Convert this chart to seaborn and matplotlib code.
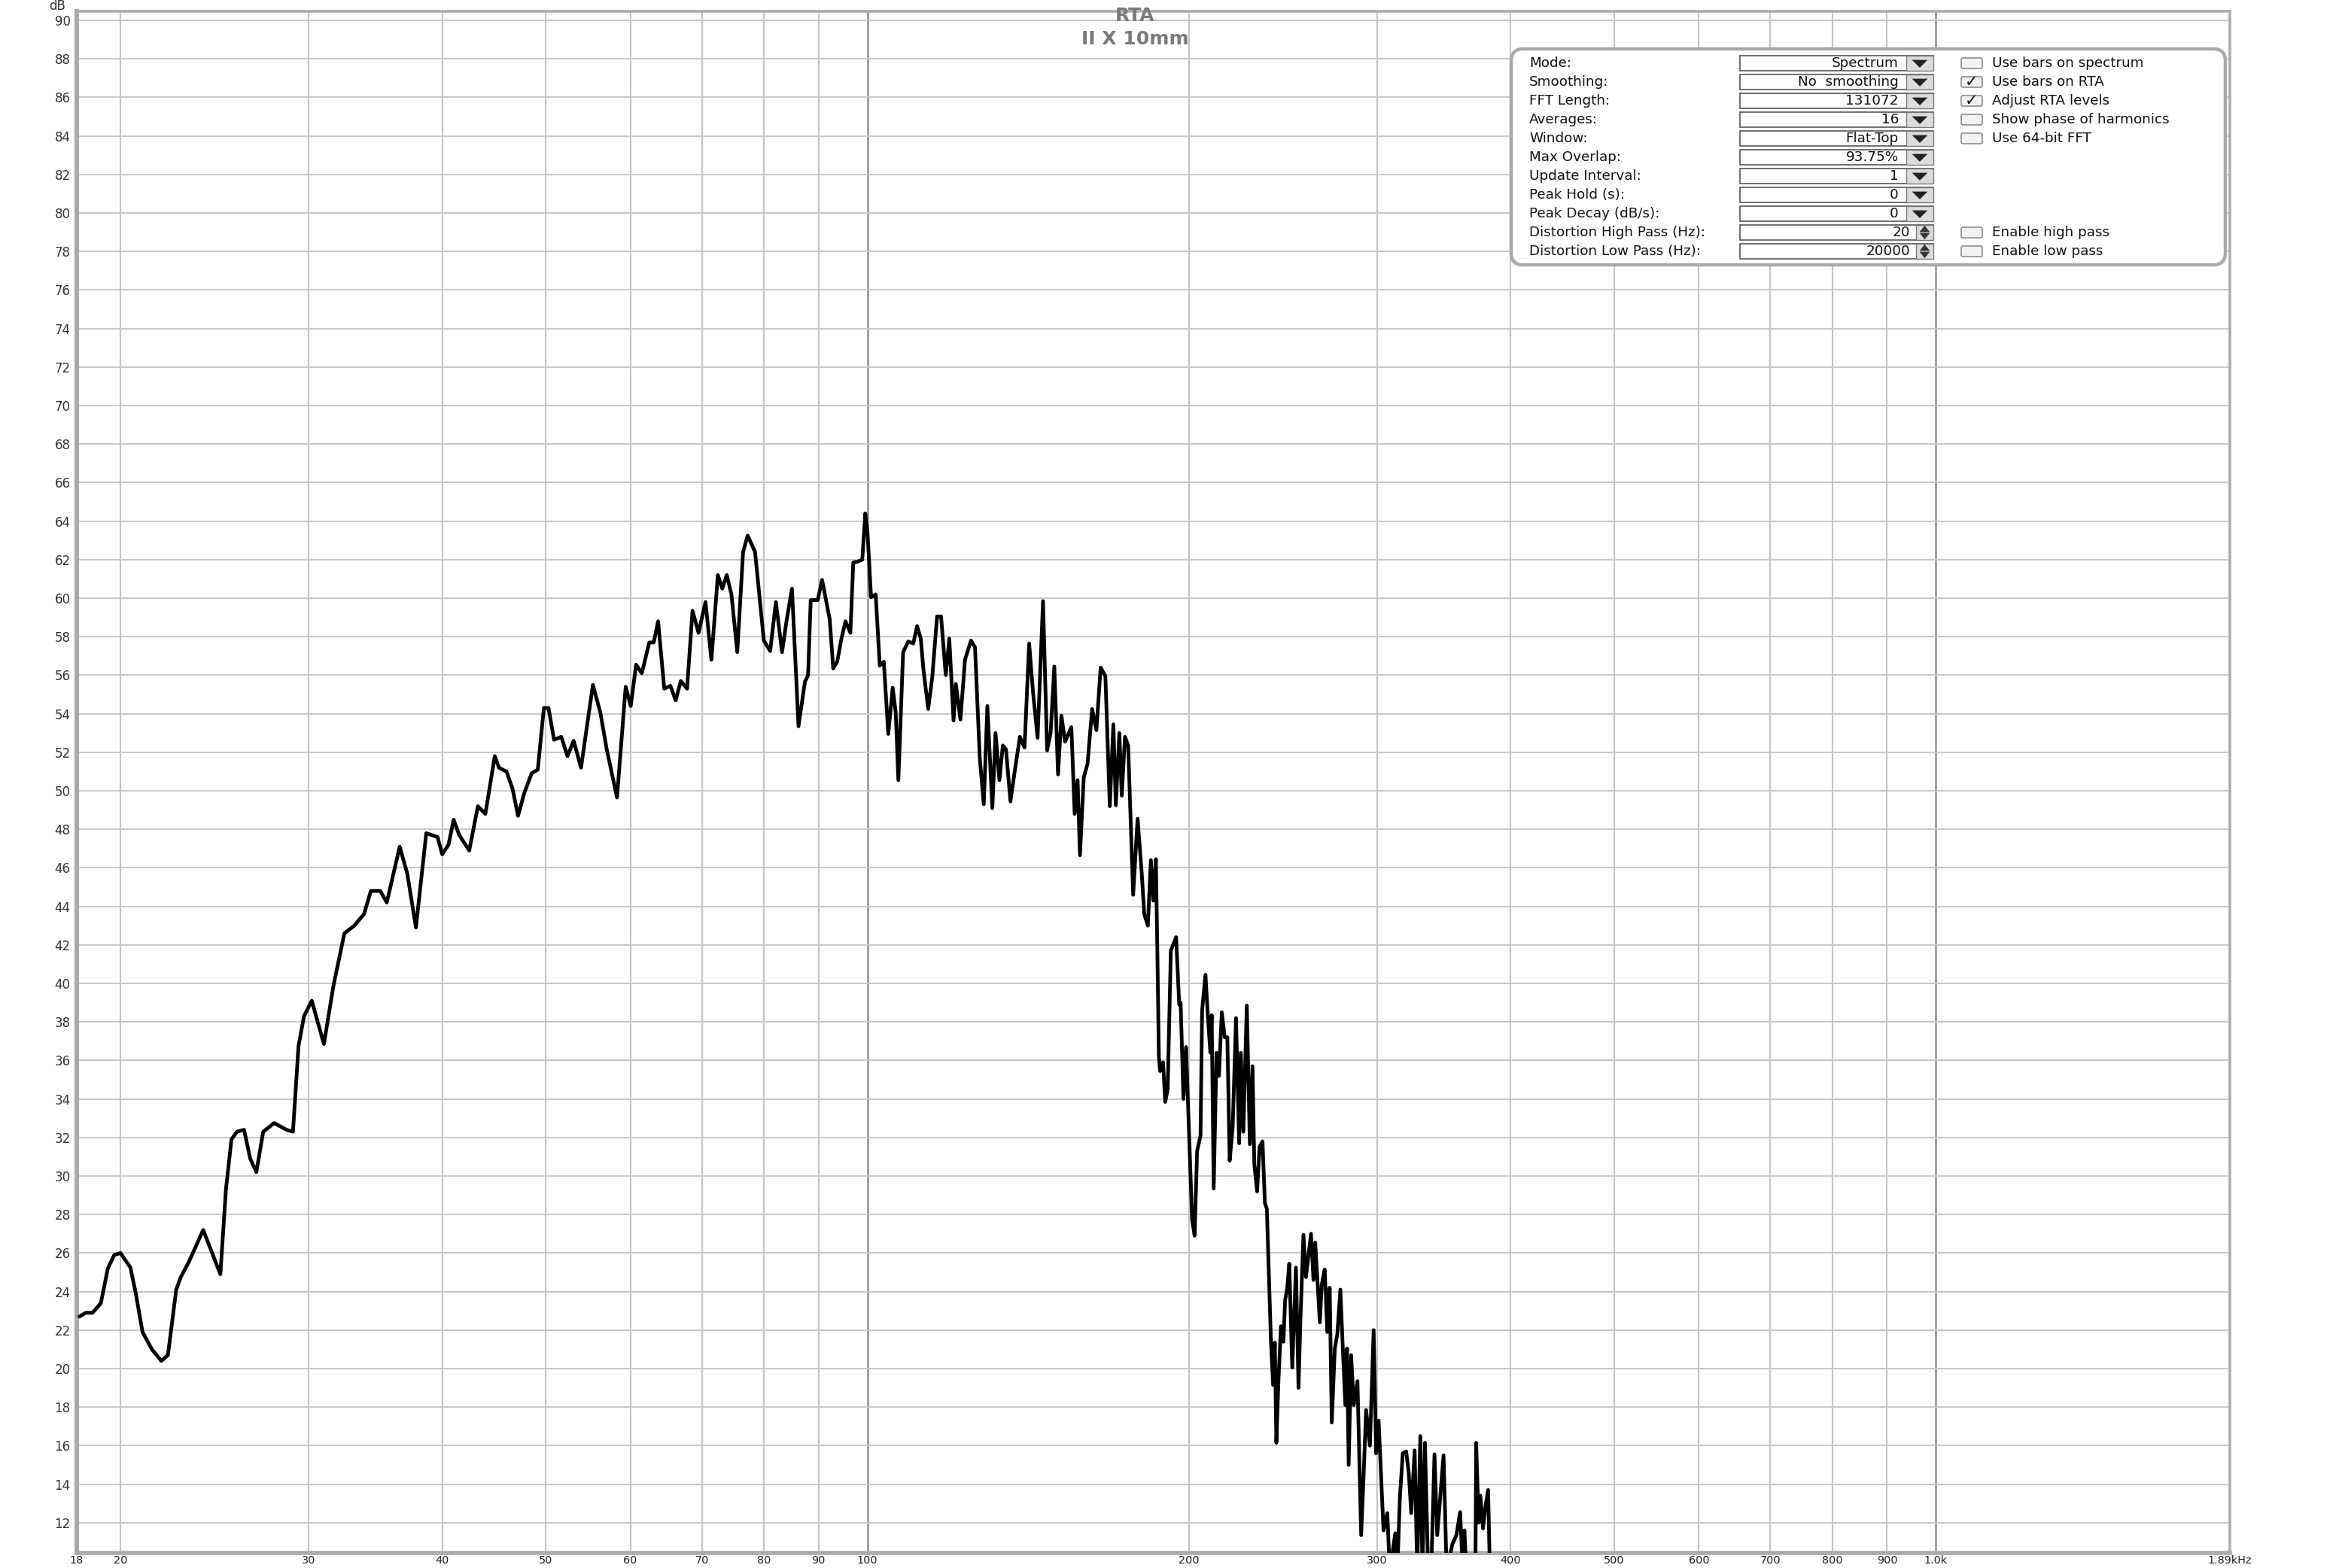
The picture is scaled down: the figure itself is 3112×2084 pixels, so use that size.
import matplotlib
matplotlib.use("Agg")
import matplotlib.pyplot as plt
from matplotlib.patches import FancyBboxPatch, Rectangle, Polygon
import seaborn as sns
import pandas as pd

# RTA trace (Hz, dB)
freq_hz = [
    18.3, 18.56, 18.83, 19.17, 19.46, 19.73, 20.0, 20.43, 20.67, 20.97,
    21.4, 21.84, 22.15, 22.55, 22.75, 23.2, 23.9, 24.8, 25.1, 25.4,
    25.7, 26.1, 26.45, 26.8, 27.2, 27.85, 28.6, 29.0, 29.35, 29.7,
    30.2, 31.0, 31.65, 32.4, 33.1, 33.8, 34.3, 35.0, 35.5, 36.5,
    37.1, 37.8, 38.65, 39.6, 40.0, 40.55, 41.0, 41.5, 42.4, 43.2,
    43.9, 44.8, 45.2, 45.95, 46.55, 47.1, 47.75, 48.5, 49.15, 49.8,
    50.3, 50.9, 51.7, 52.4, 53.1, 53.95, 55.35, 56.25, 57.0, 58.3,
    59.4, 60.05, 60.75, 61.5, 62.5, 63.1, 63.7, 64.55, 65.4, 66.15,
    66.9, 67.8, 68.6, 69.5, 70.55, 71.45, 72.45, 73.15, 73.85, 74.6,
    75.55, 76.5, 77.25, 78.5, 80.0, 81.1, 82.1, 83.2, 84.0, 85.0,
    86.2, 87.4, 88.0, 88.5, 89.85, 90.7, 92.2, 92.9, 93.7, 94.6,
    95.4, 96.4, 97.0, 97.95, 98.9, 99.55, 100.0, 100.8, 101.8, 102.7,
    103.6, 104.6, 105.6, 106.3, 106.9, 108.0, 109.2, 110.4, 111.3, 112.2,
    112.8, 114.0, 115.0, 116.2, 117.2, 118.4, 119.3, 120.4, 121.0, 122.2,
    123.4, 125.0, 126.1, 127.4, 128.5, 129.5, 130.9, 131.8, 132.9, 133.9,
    134.8, 136.1, 137.4, 138.9, 140.3, 141.7, 142.9, 144.3, 146.0, 147.3,
    148.4, 149.6, 150.8, 151.9, 153.1, 155.2, 156.3, 157.3, 158.1, 159.4,
    160.7, 162.3, 163.8, 165.3, 167.0, 168.6, 169.9, 170.8, 172.1, 173.0,
    174.2, 175.4, 177.3, 179.0, 180.6, 181.6, 183.0, 184.2, 185.2, 186.2,
    186.8, 187.4, 187.9, 189.1, 190.0, 191.0, 192.3, 194.5, 195.8, 196.4,
    197.6, 198.7, 200.0, 201.3, 202.4, 203.5, 205.0, 205.7, 207.2, 208.3,
    209.4, 210.0, 210.9, 212.2, 213.3, 214.6, 216.0, 217.2, 218.3, 219.7,
    221.3, 222.8, 223.6, 224.8, 226.5, 228.0, 229.3, 230.2, 231.6, 232.8,
    234.3, 235.5, 236.5, 238.6, 239.7, 240.6, 241.4, 242.5, 243.8, 245.1,
    246.0, 247.1, 248.2, 249.8, 251.8, 253.2, 254.2, 255.9, 257.3, 260.1,
    261.5, 262.5, 265.1, 266.2, 267.9, 269.4, 270.8, 272.0, 273.8, 275.3,
    277.1, 278.6, 280.1, 281.1, 282.1, 283.6, 285.2, 287.5, 289.8, 291.4,
    292.9, 295.3, 297.7, 299.3, 300.9, 304.1, 306.6, 308.2, 311.9, 313.3,
    315.0, 317.0, 319.3, 321.1, 322.8, 325.2, 327.0, 329.2, 330.7, 332.5,
    334.8, 337.0, 339.4, 341.4, 344.2, 346.1, 348.4, 352.8, 355.8, 358.7,
    360.7, 362.0, 363.6, 370.7, 371.3, 373.3, 374.7, 376.8, 378.9, 381.0,
    382.4,
]
level_db = [
    22.7, 22.9, 22.9, 23.4, 25.2, 25.9, 26.0, 25.25, 23.9, 21.9,
    21.0, 20.4, 20.7, 24.1, 24.7, 25.6, 27.2, 24.9, 29.3, 31.9,
    32.3, 32.4, 30.9, 30.2, 32.3, 32.75, 32.4, 32.3, 36.75, 38.3,
    39.1, 36.85, 39.9, 42.6, 43.0, 43.6, 44.8, 44.8, 44.2, 47.1,
    45.7, 42.9, 47.8, 47.6, 46.7, 47.2, 48.5, 47.7, 46.9, 49.2,
    48.8, 51.8, 51.2, 51.0, 50.1, 48.7, 49.9, 50.9, 51.1, 54.3,
    54.3, 52.65, 52.8, 51.8, 52.6, 51.2, 55.5, 54.05, 52.2, 49.65,
    55.4, 54.4, 56.55, 56.1, 57.7, 57.7, 58.8, 55.3, 55.45, 54.7,
    55.7, 55.3, 59.35, 58.2, 59.8, 56.8, 61.2, 60.5, 61.2, 60.2,
    57.2, 62.4, 63.25, 62.4, 57.8, 57.25, 59.8, 57.2, 58.8, 60.5,
    53.35, 55.65, 56.0, 59.9, 59.9, 60.95, 58.9, 56.35, 56.7, 57.95,
    58.8, 58.2, 61.85, 61.9, 62.0, 64.4, 63.5, 60.05, 60.2, 56.5,
    56.7, 52.95, 55.35, 54.05, 50.55, 57.2, 57.75, 57.65, 58.55, 57.9,
    56.35, 54.25, 55.9, 59.05, 59.05, 56.0, 57.9, 53.65, 55.55, 53.7,
    56.8, 57.8, 57.45, 51.7, 49.3, 54.4, 49.1, 53.0, 50.55, 52.35,
    52.15, 49.45, 51.05, 52.8, 52.25, 57.65, 55.1, 52.75, 59.85, 52.1,
    53.0, 56.45, 50.85, 53.9, 52.55, 53.3, 48.8, 50.55, 46.65, 50.7,
    51.4, 54.25, 53.15, 56.4, 55.95, 49.2, 53.45, 49.25, 53.0, 49.75,
    52.8, 52.35, 44.6, 48.55, 45.75, 43.6, 43.0, 46.4, 44.3, 46.45,
    41.6, 36.2, 35.45, 35.9, 33.85, 34.5, 41.7, 42.4, 38.9, 39.0,
    34.0, 36.7, 32.15, 27.75, 26.9, 31.3, 32.1, 38.6, 40.45, 38.25,
    36.4, 38.35, 29.35, 36.4, 35.2, 38.5, 37.2, 37.2, 30.8, 32.5,
    38.2, 31.7, 36.4, 32.3, 38.85, 31.65, 35.7, 30.6, 29.2, 31.5,
    31.8, 28.6, 28.3, 21.4, 19.15, 21.35, 16.15, 19.4, 22.2, 21.4,
    23.55, 24.15, 25.45, 20.05, 25.25, 19.0, 22.4, 26.95, 24.75, 27.0,
    24.6, 26.55, 22.4, 24.35, 25.15, 21.9, 24.2, 17.2, 21.05, 21.8,
    24.1, 20.95, 18.1, 21.05, 15.0, 20.7, 18.1, 19.35, 11.35, 14.6,
    17.85, 16.0, 22.0, 15.6, 17.3, 11.6, 12.5, 9.5, 11.45, 9.5,
    13.3, 15.6, 15.7, 14.6, 12.5, 15.75, 9.5, 16.5, 9.5, 16.15,
    9.5, 9.5, 15.55, 11.35, 13.8, 15.5, 9.5, 10.9, 11.35, 12.55,
    9.5, 11.6, 9.5, 9.5, 16.15, 12.0, 13.4, 11.7, 12.9, 13.7,
    9.5,
]

grid_hz = [20, 30, 40, 50, 60, 70, 80, 90, 100,
           200, 300, 400, 500, 600, 700, 800, 900, 1000]
tick_hz = [18.2, 20, 30, 40, 50, 60, 70, 80, 90, 100,
           200, 300, 400, 500, 600, 700, 800, 900, 1000, 1884]
tick_labels = ["18", "20", "30", "40", "50", "60", "70", "80", "90", "100",
               "200", "300", "400", "500", "600", "700", "800", "900", "1.0k", "1.89kHz"]
db_ticks = list(range(12, 92, 2))

setting_names = ["Mode:", "Smoothing:", "FFT Length:", "Averages:", "Window:",
                 "Max Overlap:", "Update Interval:", "Peak Hold (s):",
                 "Peak Decay (dB/s):", "Distortion High Pass (Hz):",
                 "Distortion Low Pass (Hz):"]
setting_values = ["Spectrum", "No  smoothing", "131072", "16", "Flat-Top",
                  "93.75%", "1", "0", "0", "20", "20000"]
option_names = ["Use bars on spectrum", "Use bars on RTA", "Adjust RTA levels",
                "Show phase of harmonics", "Use 64-bit FFT", None, None, None,
                None, "Enable high pass", "Enable low pass"]
option_checked = [False, True, True, False, False, False, False, False,
                  False, False, False]

W, H, DPI = 3112, 2084, 200
sns.set_style("white")
plt.rcParams["font.family"] = ["DejaVu Sans"]

fig = plt.figure(figsize=(W / DPI, H / DPI), dpi=DPI)
fig.patch.set_facecolor("white")
ax = fig.add_axes([102 / W, 1 - 2064 / H, (2963 - 102) / W, (2064 - 15) / H])

df = pd.DataFrame({"freq": freq_hz, "db": level_db})
sns.lineplot(data=df, x="freq", y="db", ax=ax, color="black", lw=1.75,
             estimator=None, sort=False, zorder=5)

ax.set_xscale("log")
ax.set_xlim(18.2, 1884)
ax.set_ylim(10.43, 90.47)
ax.set_xlabel("")
ax.set_ylabel("")

for g in grid_hz:
    dark = g in (100, 1000)
    ax.axvline(g, color="#8e8e8e" if dark else "#c4c4c4", lw=0.9 if dark else 0.75, zorder=1)
for d in db_ticks:
    ax.axhline(d, color="#c8c8c8", lw=0.7, zorder=1)

ax.set_xticks(tick_hz)
ax.set_xticklabels(tick_labels)
ax.set_xticks([], minor=True)
ax.set_yticks(db_ticks)
ax.set_yticklabels([str(d) for d in db_ticks])
ax.tick_params(axis="x", length=0, pad=1.2, labelsize=5.2, labelcolor="#222222")
ax.tick_params(axis="y", length=0, pad=3, labelsize=6, labelcolor="#333333")

for side, lw in (("left", 2.2), ("bottom", 2.0), ("top", 1.3), ("right", 1.3)):
    ax.spines[side].set_visible(True)
    ax.spines[side].set_color("#ababab")
    ax.spines[side].set_linewidth(lw)

tr = fig.dpi_scale_trans


def P(x, y):
    # screenshot pixel -> inches from lower left
    return x / DPI, (H - y) / DPI


fig.text(*P(76, 8), "dB", transform=tr, ha="center", va="center", fontsize=6, color="#333333")
fig.text(*P(1508, 21), "RTA", transform=tr, ha="center", va="center",
         fontsize=9, fontweight="bold", color="#7a7a7a")
fig.text(*P(1508, 52), "II X 10mm", transform=tr, ha="center", va="center",
         fontsize=9, fontweight="bold", color="#7a7a7a")

# settings panel
x0, y0 = P(2008, 352)
x1, y1 = P(2957, 65)
fig.add_artist(FancyBboxPatch((x0, y0), x1 - x0, y1 - y0,
                              boxstyle="round,pad=0,rounding_size=0.08",
                              transform=tr, facecolor="white", edgecolor="#a9a9a9",
                              lw=1.6, zorder=10))

row_y = [84 + 25 * i for i in range(len(setting_names))]
for i, yc in enumerate(row_y):
    fig.text(*P(2032, yc), setting_names[i], transform=tr, ha="left", va="center",
             fontsize=6.6, color="#111111", zorder=12)
    bx, by = P(2312, yc + 10)
    fig.add_artist(Rectangle((bx, by), 257 / DPI, 20 / DPI, transform=tr,
                             facecolor="white", edgecolor="#555555", lw=0.6, zorder=11))
    spin = i >= 9
    ax0 = 2546 if spin else 2533
    ab, _ = P(ax0, yc)
    fig.add_artist(Rectangle((ab, by), (2569 - ax0) / DPI, 20 / DPI, transform=tr,
                             facecolor="#dcdcdc", edgecolor="#777777", lw=0.5, zorder=12))
    cx = (ax0 + 2569) / 2
    if spin:
        fig.add_artist(Polygon([P(cx - 4, yc - 2), P(cx + 4, yc - 2), P(cx, yc - 7)],
                               closed=True, transform=tr, color="#333333", zorder=13))
        fig.add_artist(Polygon([P(cx - 4, yc + 2), P(cx + 4, yc + 2), P(cx, yc + 7)],
                               closed=True, transform=tr, color="#333333", zorder=13))
    else:
        fig.add_artist(Polygon([P(cx - 7, yc - 3), P(cx + 7, yc - 3), P(cx, yc + 4)],
                               closed=True, transform=tr, color="#222222", zorder=13))
    vx = 2538 if spin else 2523
    fig.text(*P(vx, yc), setting_values[i], transform=tr, ha="right", va="center",
             fontsize=6.6, color="#111111", zorder=12)
    if option_names[i] is not None:
        cbx, cby = P(2606, yc + 7)
        fig.add_artist(FancyBboxPatch((cbx, cby), 28 / DPI, 14 / DPI,
                                      boxstyle="round,pad=0,rounding_size=0.012",
                                      transform=tr, facecolor="#f2f2f2",
                                      edgecolor="#8c8c8c", lw=0.6, zorder=12))
        if option_checked[i]:
            fig.text(*P(2620, yc), "\u2713", transform=tr, ha="center", va="center",
                     fontsize=7.5, fontweight="bold", color="#111111", zorder=13)
        fig.text(*P(2647, yc), option_names[i], transform=tr, ha="left", va="center",
                 fontsize=6.6, color="#111111", zorder=12)

fig.savefig("out.png", dpi=DPI, facecolor="white")
